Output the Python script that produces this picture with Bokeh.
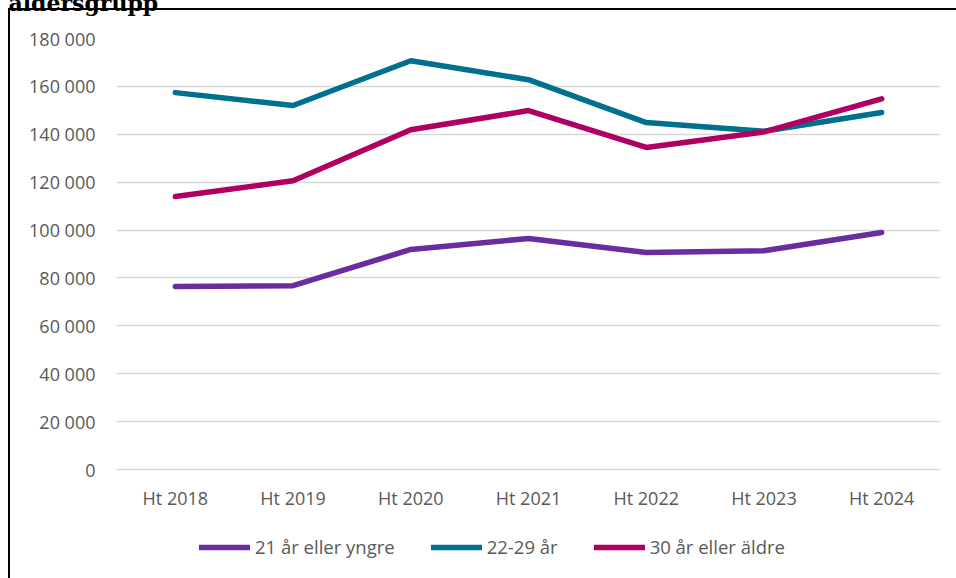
from bokeh.plotting import figure
from bokeh.models import (ColumnDataSource, FactorRange, Range1d, FixedTicker,
                          Legend, LegendItem)
from bokeh.embed import file_html
from bokeh.resources import INLINE

# ---- data ----
categories = ["Ht 2018", "Ht 2019", "Ht 2020", "Ht 2021", "Ht 2022", "Ht 2023", "Ht 2024"]
young = [76400, 76800, 91900, 96500, 90600, 91400, 99000]        # 21 år eller yngre
mid = [157400, 152000, 170700, 162800, 144900, 141300, 149100]   # 22-29 år
old = [114000, 120600, 141900, 149900, 134500, 141000, 154800]   # 30 år eller äldre
series_names = ["21 år eller yngre", "22-29 år", "30 år eller äldre"]
y_ticks = [0, 20000, 40000, 60000, 80000, 100000, 120000, 140000, 160000, 180000]
y_tick_labels = ["0", "20 000", "40 000", "60 000", "80 000", "100 000",
                 "120 000", "140 000", "160 000", "180 000"]
title_text = "åldersgrupp"

colors = ["#6B2C9F", "#00708F", "#AF0062"]
FONT = "Open Sans"
TXT = "#595959"

# layout constants (pixels / view extents, not data)
SHIFT = 36                 # canvas starts above the page top (title is cut off)
Y_VIEW_MIN = -45500        # frame extends below 0 to hold the legend
X_LABEL_BASE = -19400      # where the category labels sit

src = ColumnDataSource(dict(x=categories, young=young, mid=mid, old=old))

p = figure(x_range=FactorRange(*categories),
           y_range=Range1d(Y_VIEW_MIN, 180000),
           x_axis_location="above",
           width=956, height=578 + SHIFT, output_backend="svg", toolbar_location=None,
           min_border_left=116, min_border_right=16, min_border_top=38 + SHIFT,
           min_border_bottom=0,
           styles={"margin-top": f"-{SHIFT}px",
                   "background": (f"linear-gradient(#000,#000) 8px {8 + SHIFT}px / 2px 100% no-repeat, "
                                  f"linear-gradient(#000,#000) 8px {8 + SHIFT}px / 100% 2px no-repeat, #fff")})
p.x_range.range_padding = 0
p.outline_line_color = None
p.background_fill_color = "white"
p.border_fill_alpha = 0

p.title.text = title_text
p.title.text_font = "DejaVu Serif"
p.title.text_font_style = "bold"
p.title.text_font_size = "22px"
p.title.text_color = "#000"
p.title.align = "left"
p.title.offset = -108
p.title.standoff = 46

p.xgrid.grid_line_color = None
p.ygrid.grid_line_color = "#D9D9D9"
p.ygrid.grid_line_width = 1.5

p.yaxis.ticker = FixedTicker(ticks=y_ticks)
p.yaxis.major_label_overrides = {t: l for t, l in zip(y_ticks, y_tick_labels)}
for ax in (p.xaxis[0], p.yaxis[0]):
    ax.axis_line_color = None
    ax.major_tick_line_color = None
    ax.minor_tick_line_color = None
    ax.major_label_text_font = FONT
    ax.major_label_text_font_size = "18px"
    ax.major_label_text_color = TXT
p.yaxis.major_label_standoff = 15
p.xaxis.major_label_standoff = 0
p.xaxis.fixed_location = X_LABEL_BASE

renderers = []
for key, c in zip(["young", "mid", "old"], colors):
    r = p.line("x", key, source=src, line_color=c, line_width=5.5,
               line_cap="round", line_join="round")
    renderers.append(r)

legend = Legend(items=[LegendItem(label=n, renderers=[r]) for n, r in zip(series_names, renderers)],
                orientation="horizontal", location=(83, 19),
                glyph_width=51, glyph_height=16, label_standoff=5, spacing=36,
                padding=0, margin=0, background_fill_alpha=0, border_line_color=None,
                label_text_font=FONT, label_text_font_size="18.5px", label_text_color=TXT)
p.add_layout(legend, "center")

open("out.html", "w").write(file_html(p, INLINE))
